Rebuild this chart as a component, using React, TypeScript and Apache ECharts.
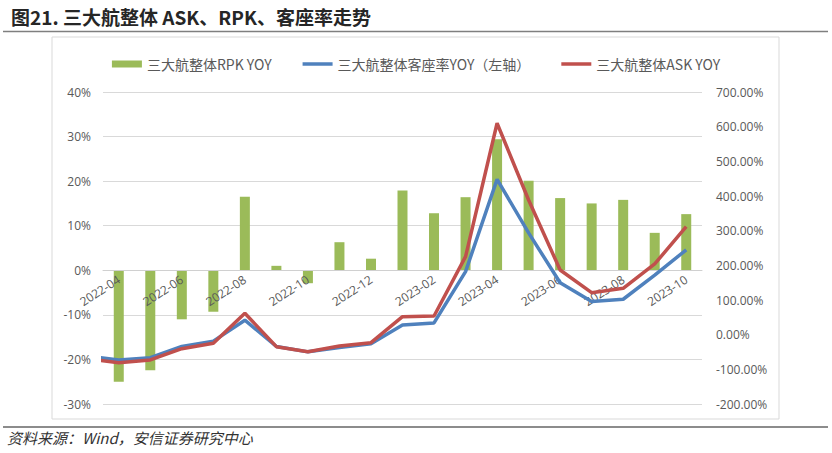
import React, { useEffect, useRef } from 'react';
import * as echarts from 'echarts';

const months = [
  '2022-04', '2022-05', '2022-06', '2022-07', '2022-08', '2022-09', '2022-10',
  '2022-11', '2022-12', '2023-01', '2023-02', '2023-03', '2023-04', '2023-05',
  '2023-06', '2023-07', '2023-08', '2023-09', '2023-10',
];

// bars, left axis (%)
const rpkYoy = [
  -25.0, -22.4, -11.0, -9.3, 16.5, 1.0, -2.9, 6.3, 2.6, 17.9,
  12.8, 16.4, 29.4, 20.1, 16.2, 15.0, 15.8, 8.4, 12.6,
];

// lines start one month earlier (2022-03), that point is cut off at the plot edge
const loadFactorYoy = [
  -19.3, -20.1, -19.6, -17.1, -15.9, -11.2, -17.1, -18.3, -17.3, -16.5,
  -12.3, -11.8, -0.3, 20.4, 8.4, -2.8, -7.0, -6.5, -1.1, 4.6,
];
// right axis (%)
const askYoy = [
  -69.8, -80.8, -73.0, -40.4, -24.8, 61.7, -34.6, -49.0, -32.6, -23.1,
  51.9, 53.9, 225, 609.8, 388.5, 186.6, 121.1, 133.8, 203.9, 311.5,
];

const seriesNames = ['三大航整体RPK YOY', '三大航整体客座率YOY（左轴）', '三大航整体ASK YOY'];
const titleText = '图21. 三大航整体 ASK、RPK、客座率走势';
const sourceText = '资料来源：Wind，安信证券研究中心';

const FONT = '"Open Sans", "Noto Sans CJK SC", sans-serif';
const CJK = '"Noto Sans CJK SC", sans-serif';
const LINE_ICON = 'path://M0,0 L30,0 L30,3.5 L0,3.5 Z';

// grid geometry
const GRID_TOP = 92;
const GRID_BOTTOM = 49;
const PLOT_H = 453 - GRID_TOP - GRID_BOTTOM;
const LEFT_MIN = -30;
const LEFT_MAX = 40;
// move the category axis (line, ticks, labels) up to the left axis' zero
const zeroOffset = -PLOT_H * (0 - LEFT_MIN) / (LEFT_MAX - LEFT_MIN);

const App = () => {
  const chartRef = useRef<HTMLDivElement>(null);

  useEffect(() => {
    if (!chartRef.current) return;
    const chart = echarts.init(chartRef.current, null, { renderer: 'svg' });

    const linePoints = (vals: number[]) => vals.map((v, i) => [i - 1, v]);

    chart.setOption({
      animation: false,
      backgroundColor: '#fff',
      title: {
        text: titleText,
        left: 6,
        top: 2,
        textStyle: { fontFamily: CJK, fontSize: 19, fontWeight: 'bold', color: '#262626' },
      },
      graphic: [
        { type: 'line', shape: { x1: 3, y1: 31.5, x2: 828, y2: 31.5 }, style: { stroke: '#7f7f7f', lineWidth: 1.5 } },
        { type: 'rect', shape: { x: 52, y: 37, width: 727, height: 382 }, style: { fill: 'none', stroke: '#d9d9d9', lineWidth: 1 } },
        { type: 'line', shape: { x1: 3, y1: 427, x2: 828, y2: 427 }, style: { stroke: '#8c8c8c', lineWidth: 2 } },
        {
          type: 'text',
          left: 7,
          top: 430,
          style: { text: sourceText, fontFamily: CJK, fontSize: 15, fontStyle: 'italic', fill: '#333' },
        },
      ],
      legend: {
        top: 52,
        left: 'center',
        itemWidth: 30,
        itemHeight: 7,
        itemGap: 31,
        symbolKeepAspect: true,
        textStyle: { fontFamily: CJK, fontSize: 14, color: '#595959' },
        data: [
          { name: seriesNames[0], icon: 'rect' },
          { name: seriesNames[1], icon: LINE_ICON },
          { name: seriesNames[2], icon: LINE_ICON },
        ],
      },
      grid: { left: 103, right: 130, top: GRID_TOP, bottom: GRID_BOTTOM },
      xAxis: [
        {
          type: 'category',
          data: months,
          offset: zeroOffset,
          z: 2,
          axisLine: { onZero: false, lineStyle: { color: '#d0d0d0' } },
          axisTick: { lineStyle: { color: '#d0d0d0' }, length: 5 },
          axisLabel: { interval: 1, rotate: 33, margin: 8, color: '#595959', fontFamily: FONT, fontSize: 12 },
        },
        { type: 'value', min: -0.5, max: 18.5, show: false, axisLine: { onZero: false } },
      ],
      yAxis: [
        {
          type: 'value',
          min: LEFT_MIN,
          max: LEFT_MAX,
          interval: 10,
          axisLine: { show: false, onZero: false },
          axisTick: { show: false },
          splitLine: { lineStyle: { color: '#d9d9d9' } },
          axisLabel: { formatter: (v: number) => `${v}%`, margin: 12, color: '#595959', fontFamily: FONT, fontSize: 12 },
        },
        {
          type: 'value',
          min: -200,
          max: 700,
          interval: 100,
          axisLine: { show: false, onZero: false },
          axisTick: { show: false },
          splitLine: { show: false },
          axisLabel: { formatter: (v: number) => `${v.toFixed(2)}%`, margin: 14, color: '#595959', fontFamily: FONT, fontSize: 12 },
        },
      ],
      series: [
        {
          name: seriesNames[0],
          type: 'bar',
          z: 1,
          data: rpkYoy,
          barWidth: 10,
          itemStyle: { color: '#9BBB59' },
        },
        {
          name: seriesNames[1],
          type: 'line',
          z: 3,
          xAxisIndex: 1,
          yAxisIndex: 0,
          data: linePoints(loadFactorYoy),
          symbol: 'none',
          itemStyle: { color: '#4F81BD' },
          lineStyle: { color: '#4F81BD', width: 3.5 },
        },
        {
          name: seriesNames[2],
          type: 'line',
          z: 4,
          xAxisIndex: 1,
          yAxisIndex: 1,
          data: linePoints(askYoy),
          symbol: 'none',
          itemStyle: { color: '#C0504D' },
          lineStyle: { color: '#C0504D', width: 3.5 },
        },
      ],
    });

    return () => {
      chart.dispose();
    };
  }, []);

  return <div ref={chartRef} style={{ position: 'fixed', left: 0, top: 0, width: 832, height: 453 }} />;
};

export default App;
